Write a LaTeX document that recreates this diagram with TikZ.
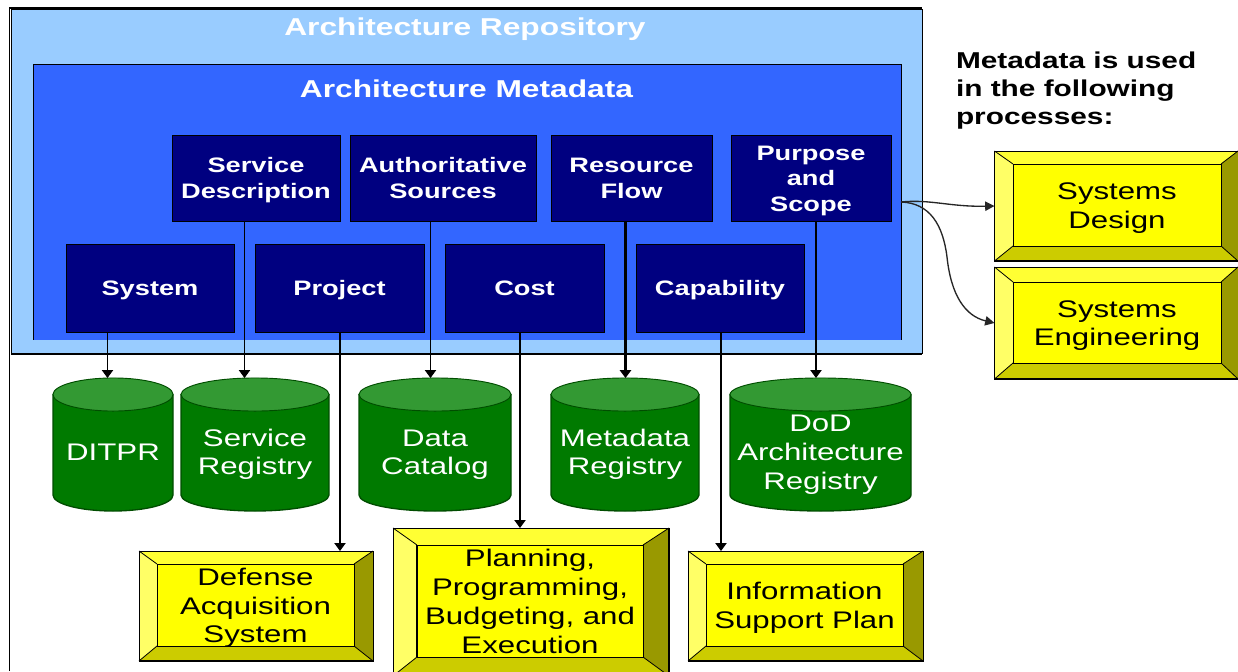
\documentclass[tikz,border=0pt]{standalone}
\usepackage{fontspec}
\setmainfont[FakeStretch=1.3]{Liberation Sans}
\usetikzlibrary{arrows.meta}
\definecolor{repo}{HTML}{99CCFF}
\definecolor{meta}{HTML}{3366FF}
\definecolor{navybox}{HTML}{000080}
\definecolor{cylbody}{HTML}{007A00}
\definecolor{cyltop}{HTML}{339933}
\definecolor{cyledge}{HTML}{004D00}
\definecolor{bevface}{HTML}{FFFF00}
\definecolor{bevtop}{HTML}{FFFF33}
\definecolor{bevleft}{HTML}{FFFF66}
\definecolor{bevright}{HTML}{999900}
\definecolor{bevbottom}{HTML}{CCCC00}
\tikzset{
  x=0.75pt,y=-0.75pt,
  every node/.style={inner sep=0pt,outer sep=0pt},
  lines/.style={text depth=0pt,text height={(#1-1)*21.6pt+13.5pt}},
  nlines/.style={text depth=0pt,text height={(#1-1)*19.2pt+11.5pt}},
  title/.style={text=white,font=\bfseries\fontsize{18.3}{21}\selectfont},
  navy/.style={fill=navybox,draw=black,line width=0.75pt,text=white,align=center,font=\bfseries\fontsize{15.7}{19.2}\selectfont},
  cyltext/.style={text=white,align=center,font=\fontsize{18}{21.6}\selectfont},
  face/.style={fill=bevface,draw=black,line width=0.75pt,text=black,align=center,font=\fontsize{18}{21.6}\selectfont},
  note/.style={text=black,align=left,anchor=north west,font=\bfseries\fontsize{17.2}{21}\selectfont},
  conn/.style={draw=black,line width=0.85pt,-{Triangle[length=6pt,width=8.5pt]}},
  connthick/.style={conn,line width=1.6pt},
  curve/.style={draw=black!85,line width=1pt,-{Triangle[length=7pt,width=7pt]}},
}
\newcommand{\placebox}[6]{%
  \node[#1,minimum width={(#4-#3)*0.75pt},minimum height={(#6-#5)*0.75pt}] (#2) at ({(#3+#4)/2},{(#5+#6)/2})}
\newcommand{\bevel}[5]{%
  \node[draw=black,line width=0.75pt,minimum width={(#3-#2)*0.75pt},minimum height={(#5-#4)*0.75pt}] (#1) at ({(#2+#3)/2},{(#4+#5)/2}) {};
  \fill[bevtop] (#1.north west)--(#1.north east)--(#1-f.north east)--(#1-f.north west)--cycle;
  \fill[bevleft] (#1.north west)--(#1.south west)--(#1-f.south west)--(#1-f.north west)--cycle;
  \fill[bevright] (#1.north east)--(#1.south east)--(#1-f.south east)--(#1-f.north east)--cycle;
  \fill[bevbottom] (#1.south west)--(#1.south east)--(#1-f.south east)--(#1-f.south west)--cycle;
  \draw[black,line width=0.6pt] (#1.north west)--(#1-f.north west) (#1.north east)--(#1-f.north east) (#1.south west)--(#1-f.south west) (#1.south east)--(#1-f.south east);
  \draw[black,line width=0.75pt] (#1.north west) rectangle (#1.south east);
  \draw[black,line width=1.5pt] (#1.south west)--(#1.south east);
  \draw[black,line width=0.75pt] (#1-f.north west) rectangle (#1-f.south east);
}
\newcommand{\cyl}[5]{%
  \pgfmathsetmacro{\xa}{#2}\pgfmathsetmacro{\xb}{#3}
  \pgfmathsetmacro{\xm}{(#2+#3)/2}\pgfmathsetmacro{\xk}{0.275*(#3-#2)}
  \node[minimum width={(#3-#2)*0.75pt},minimum height={133*0.75pt}] (#1) at (\xm,444.5) {};
  \filldraw[fill=cylbody,draw=cyledge,line width=1pt] (\xa,394.5) -- (\xa,495) .. controls (\xa,504) and (\xm-\xk,511) .. (\xm,511) .. controls (\xm+\xk,511) and (\xb,504) .. (\xb,495) -- (\xb,394.5) -- cycle;
  \filldraw[fill=cyltop,draw=cyledge,line width=0.7pt] (\xm,394.5) ellipse [x radius={(#3-#2)*0.375pt},y radius=12.4pt];
  \node[cyltext,lines=#5] (#1-t) at (\xm,451.5) {#4};
}
\begin{document}
\begin{tikzpicture}
\useasboundingbox (0,0) rectangle (1238,671);
\clip (0,0) rectangle (1238,671);
\fill[white] (0,0) rectangle (1238,671);

% frames
\draw[black,line width=0.9pt] (9.5,671) -- (9.5,8) -- (922,8);
\node[fill=repo,minimum width={911*0.75pt},minimum height={345*0.75pt}] (repo) at (466.5,181.5) {};
\draw[black,line width=0.75pt] (repo.south west) -- (repo.north west) -- (repo.north east) -- (repo.south east);
\draw[black,line width=1.3pt] (repo.south west) -- (repo.south east);
\node[fill=meta,minimum width={868*0.75pt},minimum height={275*0.75pt}] (meta) at (467,202) {};
\draw[black,line width=0.75pt] (meta.south west) -- (meta.north west) -- (meta.north east) -- (meta.south east);
\node[title] (repot) at (465,29) {Architecture Repository};
\node[title] (metat) at (466.5,88.5) {Architecture Metadata};

% metadata boxes
\placebox{navy,nlines=2}{sd}{172}{340}{135}{221} {Service\\Description};
\placebox{navy,nlines=2}{as}{350}{536}{135}{221} {Authoritative\\Sources};
\placebox{navy,nlines=2}{rf}{551}{712}{135}{221} {Resource\\Flow};
\placebox{navy,nlines=3}{ps}{731}{891}{135}{221} {Purpose\\and\\Scope};
\placebox{navy,nlines=1}{sys}{66}{234}{244}{332} {System};
\placebox{navy,nlines=1}{prj}{255}{424}{244}{332} {Project};
\placebox{navy,nlines=1}{cost}{445}{604}{244}{332} {Cost};
\placebox{navy,nlines=1}{cap}{636}{804}{244}{332} {Capability};

% cylinders
\cyl{dit}{53}{173}{DITPR}{1}
\cyl{srg}{181}{329}{Service\\Registry}{2}
\cyl{dc}{359}{511}{Data\\Catalog}{2}
\cyl{mr}{551}{699}{Metadata\\Registry}{2}
\cyl{dod}{730}{911}{DoD\\Architecture\\Registry}{3}

% beveled boxes
\placebox{face,lines=2}{sdn-f}{1013}{1221}{164}{246} {Systems\\Design};
\bevel{sdn}{994.5}{1238}{151}{261}
\placebox{face,lines=2}{sen-f}{1013}{1221}{282}{363} {Systems\\Engineering};
\bevel{sen}{994.5}{1238}{267}{379}
\placebox{face,lines=3}{das-f}{157}{354}{564}{646} {Defense\\Acquisition\\System};
\bevel{das}{139}{373}{551}{661}
\placebox{face,lines=4}{pp-f}{417}{643}{545}{657} {Planning,\\Programming,\\Budgeting, and\\Execution};
\bevel{pp}{393}{669}{528}{676}
\draw[black,line width=1.4pt] (pp.north east) -- (pp.south east) (pp-f.north west) -- (pp-f.south west);
\placebox{face,lines=2}{isp-f}{706}{903}{564}{646} {Information\\Support Plan};
\bevel{isp}{688}{923}{551}{661}

% note
\node[note] (note) at (956,52) {Metadata is used\\in the following\\processes:};

% connectors
\coordinate (c1) at (107.5,378);
\coordinate (c2) at (244.5,378);
\coordinate (c3) at (430.5,378);
\coordinate (c4) at (625.5,378);
\coordinate (c5) at (816,378);
\coordinate (c6) at (340,550);
\coordinate (c7) at (520,527);
\coordinate (c8) at (721,550);
\draw[conn] (sys.south -| c1) -- (dit.north -| c1);
\draw[conn] (sd.south -| c2) -- (srg.north -| c2);
\draw[conn] (as.south -| c3) -- (dc.north -| c3);
\draw[connthick] (rf.south -| c4) -- (mr.north -| c4);
\draw[conn] (ps.south -| c5) -- (dod.north -| c5);
\draw[conn] (prj.south -| c6) -- (das.north -| c6);
\draw[conn] (cost.south -| c7) -- (pp.north -| c7);
\draw[conn] (cap.south -| c8) -- (isp.north -| c8);
\draw[curve] (meta.east) .. controls (930,199) and (950,207) .. (sdn.west);
\coordinate (bend) at (947,257);
\draw[curve] (meta.east) .. controls (930,203) and (943,225) .. (bend) .. controls (951,295) and (965,316) .. (sen.west);
\end{tikzpicture}
\end{document}
